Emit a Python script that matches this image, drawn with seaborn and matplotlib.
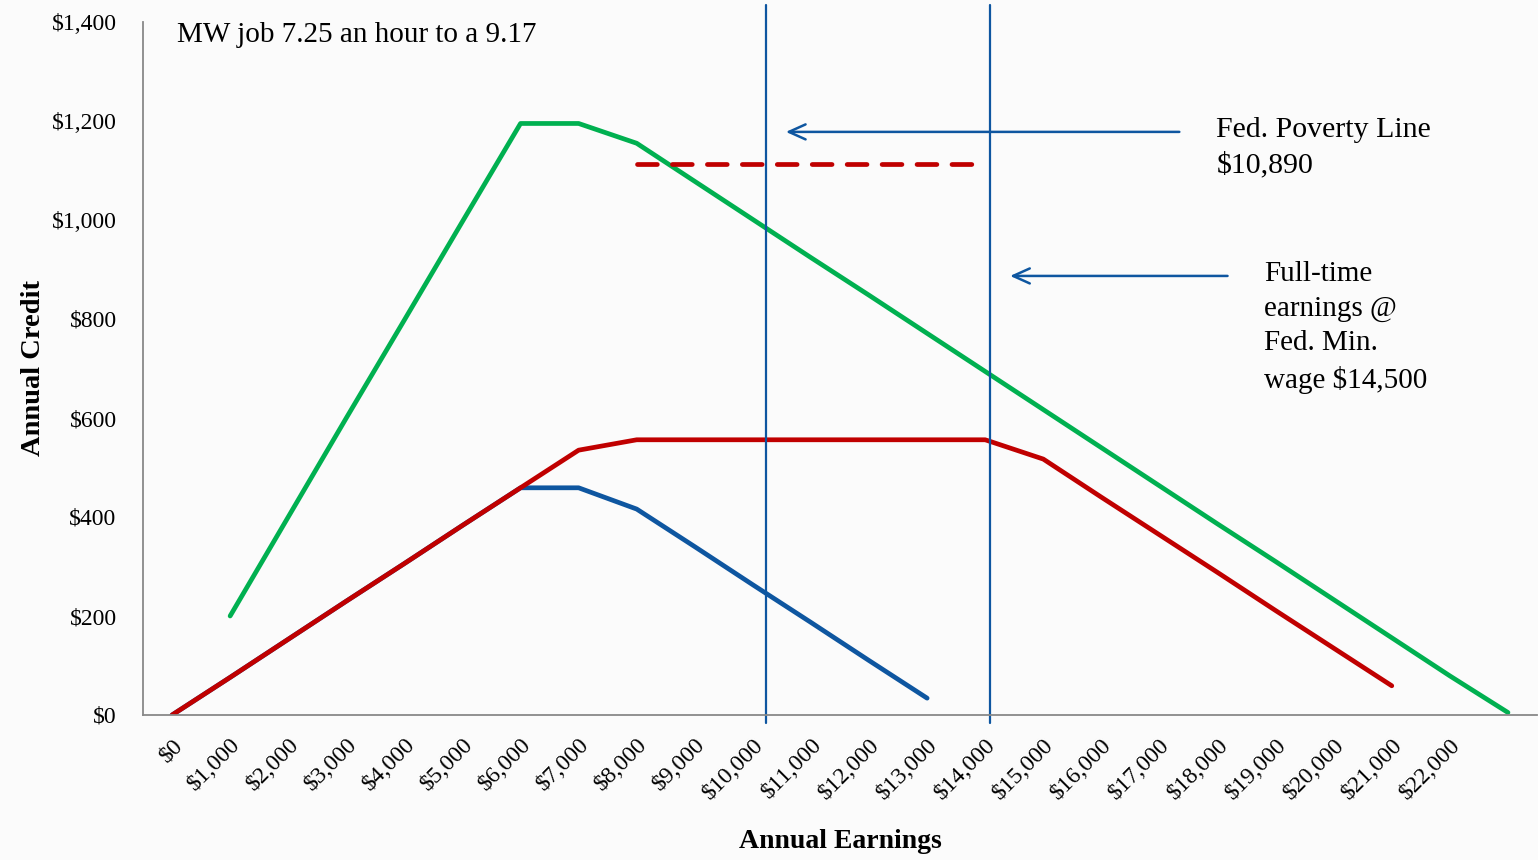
import numpy as np
import pandas as pd
import matplotlib
matplotlib.use("Agg")
import matplotlib.pyplot as plt
import seaborn as sns

# ---- data ----
earn_labels = ["$0", "$1,000", "$2,000", "$3,000", "$4,000", "$5,000", "$6,000", "$7,000",
               "$8,000", "$9,000", "$10,000", "$11,000", "$12,000", "$13,000", "$14,000",
               "$15,000", "$16,000", "$17,000", "$18,000", "$19,000", "$20,000", "$21,000",
               "$22,000", ""]

green_x = [1, 2, 3, 4, 5, 6, 7, 8, 9, 10, 11, 12, 13, 14, 15, 16, 17, 18, 19, 20, 21, 22, 23]
green_y = [200, 400, 600, 798, 997, 1195, 1195, 1155, 1078, 1001, 924, 848, 771, 694,
           617, 540, 463, 386, 310, 233, 156, 79, 5]

red_x = [0, 1, 2, 3, 4, 5, 6, 7, 8, 9, 10, 11, 12, 13, 14, 15, 16, 17, 18, 19, 20, 21]
red_y = [0, 76, 153, 230, 306, 383, 459, 535, 556, 556, 556, 556, 556, 556, 556,
         517, 440, 364, 288, 211, 135, 59]

blue_x = [0, 1, 2, 3, 4, 5, 6, 7, 8, 9, 10, 11, 12, 13]
blue_y = [0, 76, 153, 230, 306, 383, 459, 459, 416, 340, 263, 187, 110, 34]

dash_x = [8, 9, 10, 11, 12, 13, 13.85]
dash_y = [1113, 1113, 1113, 1113, 1113, 1113, 1113]

poverty_pos = 10.23
fulltime_pos = 14.08

y_ticks = [0, 200, 400, 600, 800, 1000, 1200, 1400]
y_labels = ["$0", "$200", "$400", "$600", "$800", "$1,000", "$1,200", "$1,400"]

GREEN = "#00B050"
RED = "#C00000"
BLUE = "#0E56A0"
TXT = "#000000"

sns.set_theme(style="white")
plt.rcParams['font.family'] = ['Liberation Serif', 'DejaVu Serif']

fig = plt.figure(figsize=(15.38, 8.6), dpi=100, facecolor="#FBFBFB")
ax = fig.add_axes([143 / 1538, 1 - 715 / 860, (1537 - 143) / 1538, (715 - 22) / 860])
ax.set_facecolor("#FBFBFB")

df_blue = pd.DataFrame({"x": blue_x, "y": blue_y})
df_red = pd.DataFrame({"x": red_x, "y": red_y})
df_green = pd.DataFrame({"x": green_x, "y": green_y})
df_dash = pd.DataFrame({"x": dash_x, "y": dash_y})

sns.lineplot(data=df_blue, x="x", y="y", ax=ax, color=BLUE, lw=3.4, solid_capstyle="round")
sns.lineplot(data=df_red, x="x", y="y", ax=ax, color=RED, lw=3.4, solid_capstyle="round")
sns.lineplot(data=df_green, x="x", y="y", ax=ax, color=GREEN, lw=3.4, solid_capstyle="round")
ax.plot(df_dash["x"], df_dash["y"], color=RED, lw=3.4, dashes=(4.2, 3.2),
        dash_capstyle="round")

# vertical reference lines (extend slightly beyond the plot area)
for pos in (poverty_pos, fulltime_pos):
    ax.plot([pos, pos], [-16, 1435], color=BLUE, lw=1.6, clip_on=False)

# arrows
ax.annotate("", xy=(10.52, 1178), xytext=(17.39, 1178),
            arrowprops=dict(arrowstyle="->,head_length=1.0,head_width=0.45", color=BLUE, lw=1.8))
ax.annotate("", xy=(14.38, 887), xytext=(18.22, 887),
            arrowprops=dict(arrowstyle="->,head_length=1.0,head_width=0.45", color=BLUE, lw=1.8))

# texts
ax.text(0.08, 1373, "MW job 7.25 an hour to a 9.17", fontsize=21, va="center", ha="left", color=TXT)
ax.text(17.98, 1146, "Fed. Poverty Line\n$10,890", fontsize=21.5, va="center", ha="left",
        color=TXT, linespacing=1.42)
ax.text(18.8, 783, "Full-time\nearnings @\nFed. Min.\nwage $14,500", fontsize=21, va="center",
        ha="left", color=TXT, linespacing=1.42)

# axes
ax.set_xlim(-0.5, 23.5)
ax.set_ylim(0, 1400)
ax.set_yticks(y_ticks)
ax.set_yticklabels(y_labels, fontsize=17, color=TXT)
ax.set_xticks(np.arange(len(earn_labels)))
ax.set_xticklabels(earn_labels, rotation=45, ha="right", rotation_mode="anchor", fontsize=17,
                   color=TXT)
ax.set_xticks(np.arange(-0.5, 24, 1.0), minor=True)
ax.tick_params(axis="x", which="major", length=0, pad=14)
ax.tick_params(axis="x", which="minor", length=7, width=1.2, color="#888888", direction="out")
ax.tick_params(axis="y", which="major", length=5, width=1.2, color="#888888", direction="out", pad=14)
ax.set_xlabel("Annual Earnings", fontsize=20, fontweight="bold", labelpad=18, color=TXT)
ax.set_ylabel("Annual Credit", fontsize=20.5, fontweight="bold", labelpad=4, color=TXT)

for s in ("top", "right"):
    ax.spines[s].set_visible(False)
for s in ("left", "bottom"):
    ax.spines[s].set_color("#888888")
    ax.spines[s].set_linewidth(1.3)

fig.savefig("out.png", dpi=100, facecolor=fig.get_facecolor())
